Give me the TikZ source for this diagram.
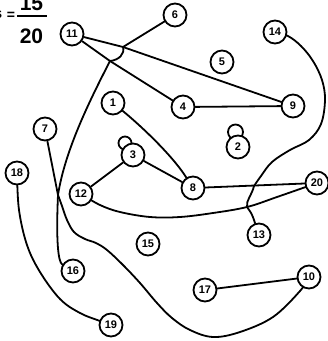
\documentclass[tikz,border=0pt]{standalone}
\usepackage{fontspec}
\setmainfont{Liberation Sans}
\pgfdeclarelayer{bg}
\pgfsetlayers{bg,main}
\begin{document}
\begin{tikzpicture}[x=1pt,y=-1pt,
  vtx/.style={circle,draw,line width=1.8pt,fill=white,minimum size=23pt,inner sep=0pt,font=\fontsize{11}{11}\selectfont\bfseries},
  edge/.style={line width=1.8pt,line cap=round,line join=round},
  titletext/.style={inner sep=0pt,font=\fontsize{21}{21}\selectfont\bfseries}]
\useasboundingbox (0,0) rectangle (328,341);
% title
\node[titletext,anchor=base] (num) at (31.5,10) {15};
\node[titletext,anchor=base] (den) at (31.5,43) {20};
\node[inner sep=0pt,font=\fontsize{14}{14}\selectfont\bfseries] (eq) at (11,15.5) {=};
\node[inner sep=0pt,anchor=base east,font=\fontsize{15}{15}\selectfont\bfseries] (lhs) at (2.5,18.5) {s};
\draw[line width=2.4pt] (17,16) -- (47,16);
% vertices
\node[vtx] (n11) at (72,34) {11};
\node[vtx] (n6) at (175,15) {6};
\node[vtx] (n14) at (275,32) {14};
\node[vtx] (n5) at (222,62) {5};
\node[vtx] (n1) at (113,103) {1};
\node[vtx] (n4) at (183,107) {4};
\node[vtx] (n9) at (293,106) {9};
\node[vtx] (n2) at (238,147) {2};
\node[vtx] (n3) at (133,155) {3};
\node[vtx] (n7) at (45,129) {7};
\node[vtx] (n18) at (17,173) {18};
\node[vtx] (n12) at (81,194) {12};
\node[vtx] (n8) at (193,188) {8};
\node[vtx] (n20) at (317,183) {20};
\node[vtx] (n15) at (148,244) {15};
\node[vtx] (n13) at (259,235) {13};
\node[vtx] (n16) at (73,271) {16};
\node[vtx] (n10) at (309,277) {10};
\node[vtx] (n17) at (205,290) {17};
\node[vtx] (n19) at (111,325) {19};
% junctions
\coordinate (A) at (123,47);
\coordinate (B) at (110,61);
\coordinate (C) at (58,195);
\coordinate (D) at (247,207);
\coordinate (E) at (254,186);
\begin{pgfonlayer}{bg}
\draw[edge] (n11) -- (A) -- (n9);
\draw[edge] (n11) -- (B) -- (n4);
\draw[edge] (A) -- (n6);
\draw[edge] (A) .. controls (125,54) and (119,60) .. (B);
\draw[edge] (B) .. controls (90,100) and (65,150) .. (C);
\draw[edge] (n7) -- (C);
\draw[edge] (C) .. controls (56,240) and (58,262) .. (n16);
\draw[edge] plot[smooth,tension=0.6] coordinates {(C) (62,206) (67,220) (74,232) (85,239) (96,243) (107,250) (123,265) (140,283) (157,303) (172,318) (190,330) (213,337) (240,332) (273,317) (300,291) (n10.center)};
\draw[edge] (n17) -- (n10);
\draw[edge] plot[smooth,tension=0.6] coordinates {(n18.center) (19,210) (27,245) (40,272) (60,299) (80,313) (100,321) (n19.center)};
\draw[edge] (n1) .. controls (140,125) and (172,155) .. (n8);
\draw[edge] (n3) -- (n8);
\draw[edge] (n3) -- (n12);
\draw[edge] ([shift={(-8,-12)}]n3.center) circle (6.5);
\draw[edge] ([shift={(-2.5,-15)}]n2.center) circle (7.5);
\draw[edge] plot[smooth,tension=0.6] coordinates {(n12.center) (100,205) (120,212) (150,217) (180,217) (213,213) (D) (277,197) (n20.center)};
\draw[edge] (n8) -- (n20);
\draw[edge] plot[smooth,tension=0.6] coordinates {(n14.center) (288,36) (301,46) (313,61) (322,80) (325,100) (321,124) (309,140) (290,150) (272,162) (261,176) (E)};
\draw[edge] (E) .. controls (252,195) and (246,200) .. (D) .. controls (252,214) .. (n13);
\draw[edge] (n9) -- (n4);
\end{pgfonlayer}
\end{tikzpicture}
\end{document}
